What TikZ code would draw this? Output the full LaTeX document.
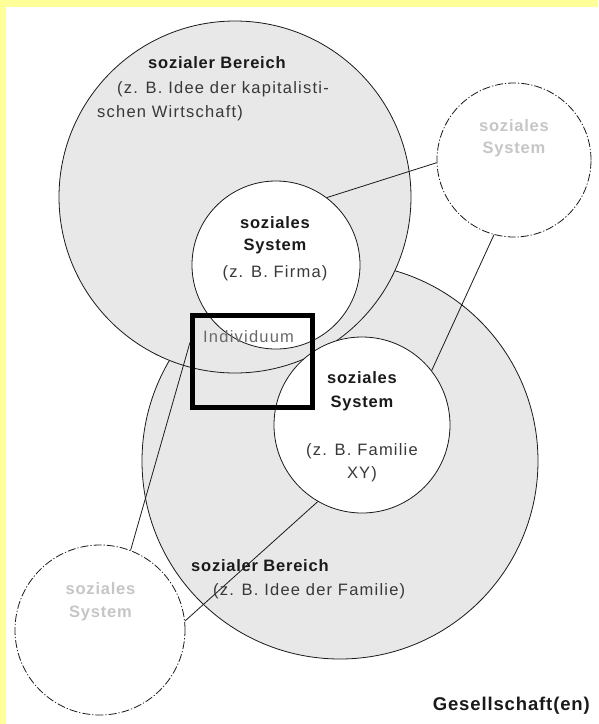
\documentclass[tikz,border=0pt]{standalone}
\usepackage{fontspec}
\setmainfont{Liberation Sans}[UprightFeatures={LetterSpace=7.4},BoldFeatures={LetterSpace=4.7}]
\usepackage{xcolor}
\usetikzlibrary{positioning}
\definecolor{gelb}{HTML}{FFFF99}
\definecolor{flaeche}{HTML}{E8E8E8}
\definecolor{tinte}{HTML}{1A1A1A}
\definecolor{grau}{HTML}{383838}
\definecolor{blass}{HTML}{C6C6C6}
\definecolor{mittel}{HTML}{6A6A6A}
\tikzset{
  bereich/.style={circle, draw=tinte, fill=flaeche, line width=0.8pt, inner sep=0pt},
  sys/.style={circle, draw=tinte, fill=white, line width=0.8pt, inner sep=0pt},
  fremd/.style={sys, dash pattern=on 8pt off 2pt on 1.2pt off 2pt},
  ln/.style={draw=tinte, line width=0.8pt},
  ttl/.style={font=\fontsize{16.5}{19}\selectfont\bfseries, text=tinte, inner sep=0pt, anchor=base},
  bsp/.style={font=\fontsize{16.5}{19}\selectfont, text=grau, inner sep=0pt, anchor=base},
  pale/.style={ttl, text=blass},
  rahmen/.style={draw=black, line width=5pt, minimum width=120pt, minimum height=92pt, inner sep=0pt},
}

\begin{document}
\begin{tikzpicture}[x=1pt, y=-1pt]
\useasboundingbox (0,0) rectangle (598,724);
\fill[gelb] (0,0) rectangle (598,724);
\fill[white] (6,7) rectangle (598,724);

% --- BEREICHE ---
\node[bereich, minimum size=396pt] (berU) at (340,461) {};
\node[bereich, minimum size=352pt] (berO) at (235,197) {};

% --- SYSTEME ---
\node[sys, minimum size=168pt] (firma) at (276,265) {};
\node[sys, minimum size=176pt] (familie) at (362,425) {};
\node[fremd, minimum size=154pt] (fremdR) at (514,160) {};
\node[fremd, minimum size=170pt] (fremdL) at (100,630) {};

% --- INDIVIDUUM ---
\node[rahmen] (indiv) at (252.5,361.5) {};
\node[bsp, text=mittel, anchor=base west] (indivT) at (203,342.7) {Individuum};

% --- VERBINDUNGEN ---
\draw[ln] (firma.53) -- (fremdR.182);
\draw[ln] (fremdR.255) -- (familie.38);
\draw[ln] (fremdL.69) -- (indiv.163);
\draw[ln] (fremdL.6) -- (familie.240);

% --- TEXTE ---
\node[ttl, anchor=base west] (berOT) at (148,68.3) {sozialer Bereich};
\node[bsp, anchor=base west] (berOB1) at (117,93.3) {(z. B. Idee der kapitalisti-};
\node[bsp, anchor=base west] (berOB2) at (97,117.5) {schen Wirtschaft)};

\node[ttl] (firmaT1) at (275,228) {soziales};
\node[ttl] (firmaT2) at (275,250) {System};
\node[bsp] (firmaB) at (275,277) {(z. B. Firma)};

\node[ttl] (familieT1) at (362,383.5) {soziales};
\node[ttl] (familieT2) at (362,407) {System};
\node[bsp] (familieB1) at (362,455) {(z. B. Familie};
\node[bsp] (familieB2) at (362,478) {XY)};

\node[ttl, anchor=base west] (berUT) at (191,571) {sozialer Bereich};
\node[bsp, anchor=base west] (berUB) at (213,595) {(z. B. Idee der Familie)};

\node[pale] (fremdRT1) at (514,131.7) {soziales};
\node[pale] (fremdRT2) at (514,153.4) {System};
\node[pale] (fremdLT1) at (100.5,594.3) {soziales};
\node[pale] (fremdLT2) at (100.5,617.7) {System};

\node[ttl, font=\fontsize{18.5}{21}\selectfont\bfseries, anchor=base east] (ges) at (590,710) {Gesellschaft(en)};
\end{tikzpicture}
\end{document}
